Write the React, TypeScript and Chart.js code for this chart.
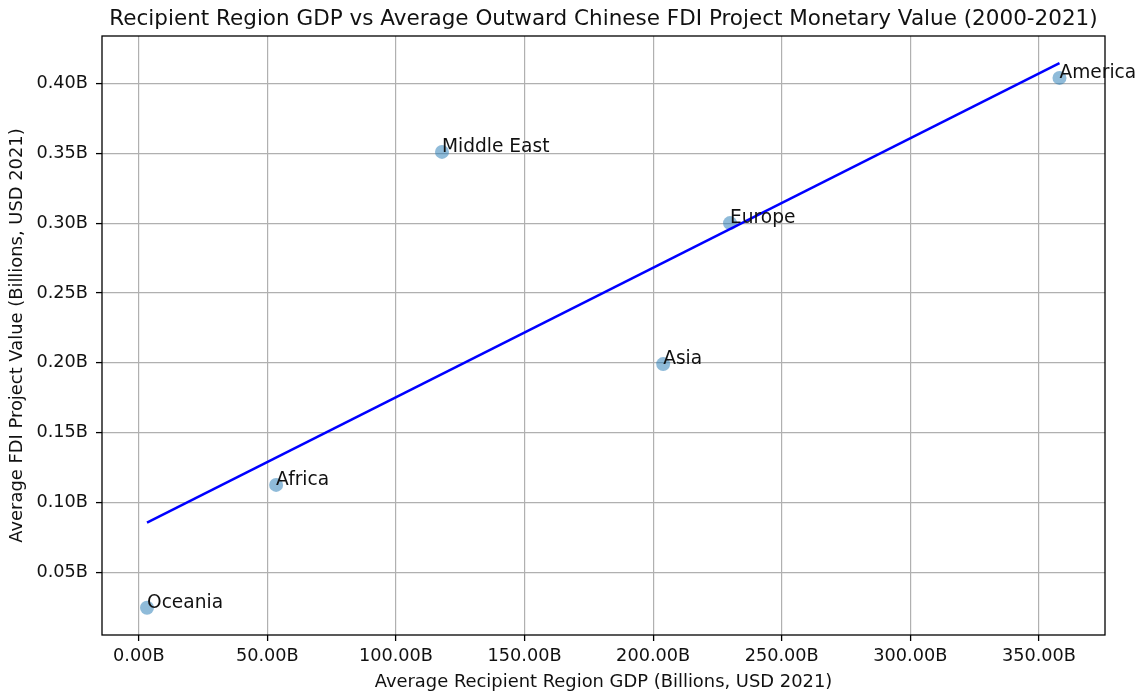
import React, { useEffect, useRef } from 'react';
import { Chart, registerables } from 'chart.js';

Chart.register(...registerables);

const FONT = "'DejaVu Sans', sans-serif";

const chartTitle = 'Recipient Region GDP vs Average Outward Chinese FDI Project Monetary Value (2000-2021)';
const xAxisTitle = 'Average Recipient Region GDP (Billions, USD 2021)';
const yAxisTitle = 'Average FDI Project Value (Billions, USD 2021)';

const regions = ['Oceania', 'Africa', 'Middle East', 'Asia', 'Europe', 'America'];
const gdpBillions = [3.2, 53.4, 117.9, 203.9, 229.9, 358.0];
const fdiBillions = [0.0245, 0.1125, 0.351, 0.199, 0.3, 0.404];

const fitLineX = [3.2, 358.0];
const fitLineY = [0.0855, 0.4145];

const xTicks = [0, 50, 100, 150, 200, 250, 300, 350];
const yTicks = [0.05, 0.1, 0.15, 0.2, 0.25, 0.3, 0.35, 0.4];
const xRange = [-14.3, 375.7];
const yRange = [0.005, 0.434];

const annotatePlugin = {
  id: 'annotate',
  afterDatasetsDraw(chart: any) {
    const { ctx, chartArea: a, scales } = chart;
    ctx.save();
    ctx.strokeStyle = '#000';
    ctx.lineWidth = 1.3;
    ctx.strokeRect(a.left, a.top, a.right - a.left, a.bottom - a.top);
    ctx.font = `18.6px ${FONT}`;
    ctx.fillStyle = '#111';
    ctx.textAlign = 'left';
    ctx.textBaseline = 'alphabetic';
    regions.forEach((r, i) => {
      ctx.fillText(r, scales.x.getPixelForValue(gdpBillions[i]), scales.y.getPixelForValue(fdiBillions[i]));
    });
    ctx.font = `21.5px ${FONT}`;
    ctx.textAlign = 'center';
    ctx.textBaseline = 'middle';
    ctx.fillText(chartTitle, (a.left + a.right) / 2, 19);
    ctx.restore();
  },
};

export default function App() {
  const ref = useRef<HTMLCanvasElement>(null);

  useEffect(() => {
    if (!ref.current) return;
    const chart = new Chart(ref.current, {
      type: 'scatter',
      data: {
        datasets: [
          {
            label: 'fit',
            data: fitLineX.map((x, i) => ({ x, y: fitLineY[i] })),
            showLine: true,
            borderColor: '#0000ff',
            borderWidth: 2.5,
            pointRadius: 0,
            backgroundColor: '#0000ff',
          },
          {
            label: 'regions',
            data: gdpBillions.map((x, i) => ({ x, y: fdiBillions[i] })),
            pointRadius: 7,
            pointBackgroundColor: 'rgba(31,119,180,0.5)',
            pointBorderWidth: 0,
            borderColor: 'rgba(31,119,180,0.5)',
            backgroundColor: 'rgba(31,119,180,0.5)',
          },
        ],
      },
      options: {
        responsive: false,
        animation: false,
        layout: { padding: { top: 36, right: 36, left: 0, bottom: 0 } },
        plugins: {
          legend: { display: false },
          tooltip: { enabled: false },
          title: { display: false },
        },
        scales: {
          x: {
            type: 'linear',
            position: 'bottom',
            min: xRange[0],
            max: xRange[1],
            afterBuildTicks: (s: any) => {
              s.ticks = xTicks.map((v) => ({ value: v }));
            },
            afterFit: (s: any) => {
              s.height = 58;
            },
            border: { display: false },
            grid: {
              color: '#b0b0b0',
              lineWidth: 1.2,
              drawTicks: true,
              tickLength: 6,
              tickColor: '#000',
              tickWidth: 1.3,
            },
            ticks: {
              autoSkip: false,
              maxRotation: 0,
              padding: 5,
              color: '#111',
              font: { family: FONT, size: 17.7 },
              callback: (v: any) => Number(v).toFixed(2) + 'B',
            },
            title: {
              display: true,
              text: xAxisTitle,
              color: '#111',
              font: { family: FONT, size: 17.9 },
              padding: { top: 0, bottom: 0 },
            },
          },
          y: {
            type: 'linear',
            min: yRange[0],
            max: yRange[1],
            afterBuildTicks: (s: any) => {
              s.ticks = yTicks.map((v) => ({ value: v }));
            },
            afterFit: (s: any) => {
              s.width = 102;
            },
            border: { display: false },
            grid: {
              color: '#b0b0b0',
              lineWidth: 1.2,
              drawTicks: true,
              tickLength: 6,
              tickColor: '#000',
              tickWidth: 1.3,
            },
            ticks: {
              autoSkip: false,
              padding: 8,
              color: '#111',
              font: { family: FONT, size: 17.7 },
              callback: (v: any) => Number(v).toFixed(2) + 'B',
            },
            title: {
              display: true,
              text: yAxisTitle,
              color: '#111',
              font: { family: FONT, size: 17.9 },
              padding: { top: 7, bottom: 0 },
            },
          },
        },
      },
      plugins: [annotatePlugin],
    } as any);
    return () => chart.destroy();
  }, []);

  return (
    <div style={{ position: 'fixed', left: 0, top: 0, width: 1141, height: 693, background: '#fff' }}>
      <canvas ref={ref} width={1141} height={693} style={{ display: 'block' }} />
    </div>
  );
}
